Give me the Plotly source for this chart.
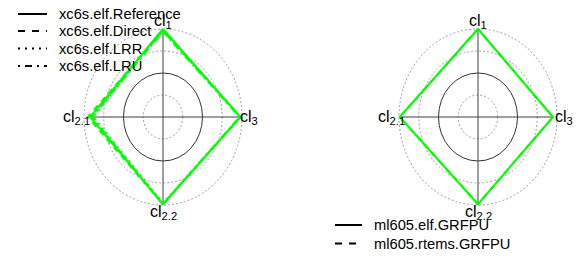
import numpy as np
import plotly.graph_objects as go

# ---- data ----
categories = ["cl<sub>1</sub>", "cl<sub>2.1</sub>", "cl<sub>2.2</sub>", "cl<sub>3</sub>"]
left_series = ["xc6s.elf.Reference", "xc6s.elf.Direct", "xc6s.elf.LRR", "xc6s.elf.LRU"]
left_ref = [1.00, 0.92, 0.99, 0.98]
left_direct = [0.98, 0.95, 0.99, 0.98]
left_lrr = [1.00, 0.88, 0.98, 0.98]
left_lru = [0.97, 0.90, 0.99, 0.97]
right_series = ["ml605.elf.GRFPU", "ml605.rtems.GRFPU"]
right_elf = [1.00, 0.99, 0.99, 0.95]
right_rtems = [1.00, 0.99, 0.99, 0.95]
grid_radii = [0.25, 0.5, 0.75, 1.0]

OFF = 8  # browser body margin
W, H = 582 - 2 * OFF, 257 - 2 * OFF
GREEN = "#00ff00"
FONT = "Liberation Sans, Arial, sans-serif"

angles = np.deg2rad(90 + 90 * np.arange(len(categories)))


def xy(vals):
    r = np.asarray(vals, dtype=float)
    x = r * np.cos(angles)
    y = r * np.sin(angles)
    return np.append(x, x[0]), np.append(y, y[0])


def px(x):
    return (x - OFF) / W


def py(y):
    return 1 - (y - OFF) / H


fig = go.Figure()

RX, RY = 79.0, 88.0
halfx, halfy = 90.0, 104.0
cy = 117
panels = [
    dict(cx=163, xa="x", ya="y", xname="xaxis", yname="yaxis",
         series=[left_ref, left_direct, left_lrr, left_lru],
         dashes=["solid", "6px,5px", "2px,4px", "2px,4px,7px,4px"]),
    dict(cx=478, xa="x2", ya="y2", xname="xaxis2", yname="yaxis2",
         series=[right_elf, right_rtems],
         dashes=["solid", "6px,5px"]),
]

shapes = []
annotations = []
for p in panels:
    fig.layout[p["xname"]] = dict(domain=[px(p["cx"] - halfx), px(p["cx"] + halfx)],
                                  range=[-halfx / RX, halfx / RX],
                                  visible=False, fixedrange=True)
    fig.layout[p["yname"]] = dict(domain=[py(cy + halfy), py(cy - halfy)],
                                  range=[-halfy / RY, halfy / RY],
                                  visible=False, fixedrange=True)
    for r in grid_radii:
        solid = abs(r - 0.5) < 1e-9
        shapes.append(dict(type="circle", xref=p["xa"], yref=p["ya"],
                           x0=-r, x1=r, y0=-r, y1=r,
                           line=dict(color="#333333" if solid else "#a0a0a0",
                                     width=1, dash="solid" if solid else "2px,2px"),
                           layer="below"))
    mx = np.max(np.array(p["series"]), axis=0)
    for i in range(len(categories)):
        fig.add_trace(go.Scatter(
            x=[0, mx[i] * np.cos(angles[i])], y=[0, mx[i] * np.sin(angles[i])],
            mode="lines", line=dict(color="#404040", width=1),
            xaxis=p["xa"], yaxis=p["ya"], showlegend=False, hoverinfo="skip"))
    for vals, d in zip(p["series"], p["dashes"]):
        xs, ys = xy(vals)
        fig.add_trace(go.Scatter(x=xs, y=ys, mode="lines",
                                 line=dict(color=GREEN, width=2, dash=d),
                                 xaxis=p["xa"], yaxis=p["ya"], showlegend=False))
    for i, c in enumerate(categories):
        lr = 1.09
        annotations.append(dict(x=lr * np.cos(angles[i]), y=lr * np.sin(angles[i]),
                                xref=p["xa"], yref=p["ya"], text=c, showarrow=False,
                                xanchor="center", yanchor="middle",
                                font=dict(family=FONT, size=16, color="black")))


def legend(names, dashes, lx0, lx1, tx, rows):
    for n, d, ry in zip(names, dashes, rows):
        shapes.append(dict(type="line", xref="paper", yref="paper",
                           x0=px(lx0), x1=px(lx1), y0=py(ry), y1=py(ry),
                           line=dict(color="black", width=2, dash=d)))
        annotations.append(dict(x=px(tx), y=py(ry), xref="paper", yref="paper",
                                text=n, showarrow=False, xanchor="left", yanchor="middle",
                                xshift=-2, borderpad=0,
                                font=dict(family=FONT, size=14.7, color="black")))


legend(left_series, ["solid", "7px,7px", "2px,5px", "2px,5px,7px,5px"], 18, 47, 60,
       [14, 31, 48.5, 66])
legend(right_series, ["solid", "7px,7px"], 335, 362, 375, [225, 243.5])

fig.update_layout(width=W, height=H, margin=dict(l=0, r=0, t=0, b=0),
                  paper_bgcolor="white", plot_bgcolor="white",
                  shapes=shapes, annotations=annotations, showlegend=False)
fig.write_html("out.html")
